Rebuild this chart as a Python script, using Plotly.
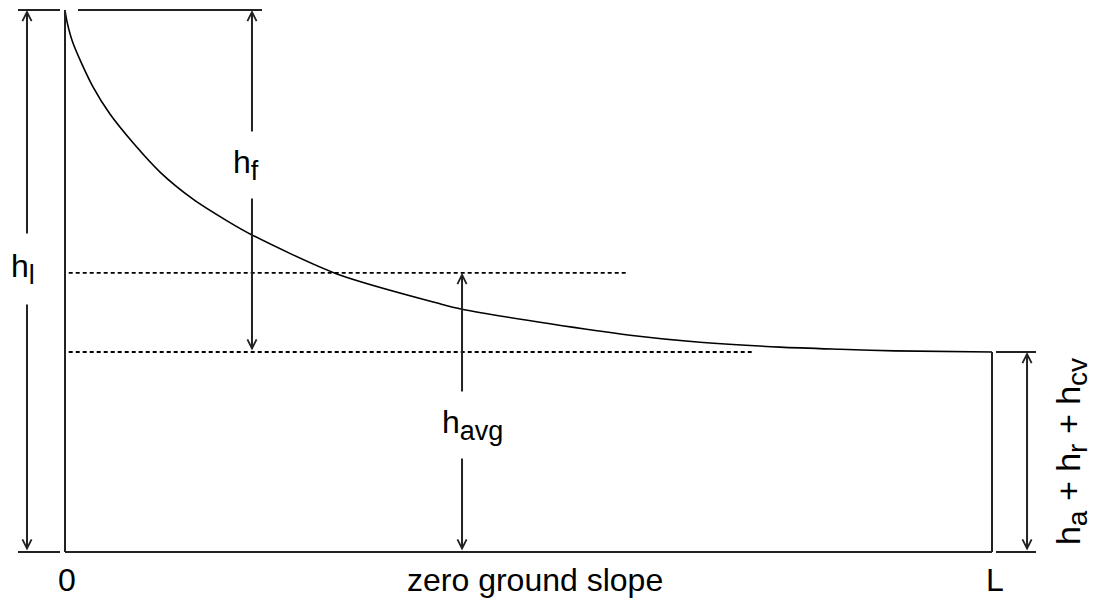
import plotly.graph_objects as go

# ---- data (x as fraction of pipe length L, head as fraction of h_l) ----
curve_x = [0.0, 0.0022, 0.0086, 0.0302, 0.0485, 0.0734, 0.1025, 0.1381, 0.1748,
           0.2017, 0.2934, 0.4045, 0.4283, 0.5232, 0.6095, 0.6850, 0.7713,
           0.8360, 0.8954, 1.0]
curve_h = [1.0, 0.978, 0.939, 0.858, 0.808, 0.755, 0.701, 0.651, 0.611,
           0.585, 0.513, 0.458, 0.448, 0.421, 0.400, 0.387, 0.378,
           0.374, 0.371, 0.369]
L_len = 1.0
h_inlet = 1.0
h_outlet = 0.369
h_average = 0.515
ground = 0.0

x_tick_labels = ["0", "zero ground slope", "L"]
x_tick_pos = [0.002, 0.507, 1.003]

# ---- layout constants ----
X_HL, X_HF, X_HAVG, X_RIGHT = -0.041, 0.2017, 0.4283, 1.0378
LINE = "#222222"
FONT = "Liberation Sans, Arial, sans-serif"
FS = 32

def sub(t, size=27):
    return '<sub><span style="font-size:%dpx">%s</span></sub>' % (size, t)

fig = go.Figure()
fig.add_trace(go.Scatter(x=curve_x, y=curve_h, mode="lines",
                         line=dict(color="black", width=1.6, shape="spline", smoothing=0.8),
                         hoverinfo="skip", showlegend=False))

def seg(x0, y0, x1, y1, dash=None, width=2, color=LINE):
    fig.add_shape(type="line", xref="x", yref="y", x0=x0, y0=y0, x1=x1, y1=y1,
                  line=dict(color=color, width=width, dash=dash))

# frame
seg(0, ground, 0, h_inlet)                 # left wall
seg(0, ground, L_len, ground)              # ground
seg(L_len, ground, L_len, h_outlet)        # right wall
# top reference line and h_l ticks
seg(0.014, h_inlet, 0.2125, h_inlet)
seg(-0.0507, h_inlet, -0.0054, h_inlet)
seg(-0.0507, ground, -0.0054, ground)
# right ticks
seg(1.0043, h_outlet, 1.0475, h_outlet)
seg(1.0043, ground, 1.0475, ground)
# dotted lines
seg(0.004, h_average, 0.606, h_average, dash="4px,3px", width=1.8, color="black")
seg(0.004, h_outlet, 0.744, h_outlet, dash="4px,3px", width=1.8, color="black")

def darrow(x, y0, y1):
    fig.add_annotation(x=x, y=y1, ax=x, ay=y0, xref="x", yref="y", axref="x", ayref="y",
                       text="", showarrow=True, arrowhead=5, startarrowhead=5,
                       arrowside="end+start", arrowsize=0.9, arrowwidth=2,
                       arrowcolor=LINE, standoff=0, startstandoff=0)

darrow(X_HL, ground, h_inlet)
darrow(X_HF, h_outlet, h_inlet)
darrow(X_HAVG, ground, h_average)
darrow(X_RIGHT, ground, h_outlet)

def label(x, y, txt, pad=10, angle=0, bg="white", size=FS):
    fig.add_annotation(x=x, y=y, xref="x", yref="y", text=txt, showarrow=False,
                       font=dict(family=FONT, size=size, color="black"),
                       bgcolor=bg, borderpad=pad, textangle=angle)

label(-0.0453, 0.522, "h" + sub("l"), pad=14)
label(0.1955, 0.714, "h" + sub("f"), pad=12)
label(0.4392, 0.234, "h" + sub("avg"), pad=12)
label(1.0845, 0.185, "h" + sub("a", 28) + " + h" + sub("r", 28) + " + h" + sub("cv", 28),
      pad=0, angle=-90, bg=None, size=34)

for t, xp in zip(x_tick_labels, x_tick_pos):
    label(xp, -0.052, t, pad=0, bg=None)

# page body has an 8px margin: figure is sized/ranged so marks land on the reference pixels
fig.update_layout(width=1090, height=593, margin=dict(l=0, r=0, t=0, b=0),
                  paper_bgcolor="white", plot_bgcolor="white",
                  xaxis=dict(range=[-0.06149, 1.11435], visible=False, fixedrange=True),
                  yaxis=dict(range=[-0.09041, 1.00369], visible=False, fixedrange=True))
fig.write_html("out.html")
